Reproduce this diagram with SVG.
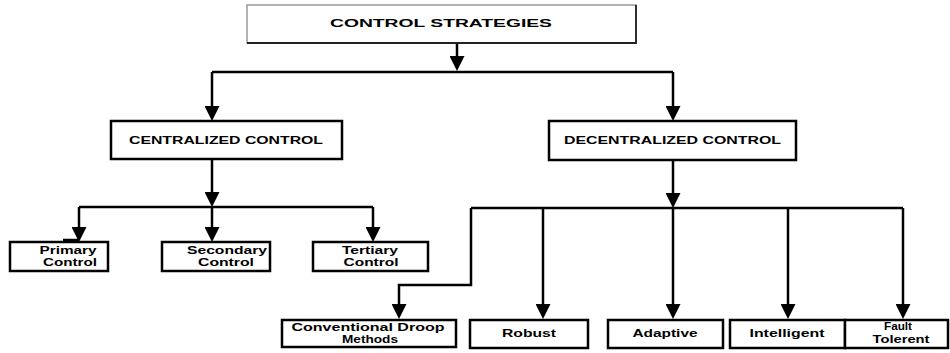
<svg xmlns="http://www.w3.org/2000/svg" width="950" height="353" viewBox="0 0 950 353">
<style>
.bx{fill:#fff;stroke:#000;stroke-width:2.5}
.cn{fill:none;stroke:#000;stroke-width:2.5}
.ar{marker-end:url(#ah)}
text{font-family:"Liberation Sans",Arial,sans-serif;font-weight:bold;fill:#000;text-anchor:middle}
.t1{font-size:11.5px}
.t2{font-size:11px}
.t3{font-size:10px}
</style>
<defs>
<marker id="ah" markerUnits="userSpaceOnUse" markerWidth="15" markerHeight="15" viewBox="0 0 15 15" refX="11" refY="7.5" orient="auto">
<path d="M0,0 L15,7.5 L0,15 z" fill="#000"/>
</marker>
</defs>
<rect width="950" height="353" fill="#fff"/>
<g id="connectors">
<line class="cn ar" x1="457" y1="43" x2="457" y2="67"/>
<polyline class="cn" points="212,72 673,72"/>
<line class="cn ar" x1="212" y1="72" x2="212" y2="117"/>
<line class="cn ar" x1="673" y1="72" x2="673" y2="117"/>
<line class="cn ar" x1="212" y1="159" x2="212" y2="203"/>
<polyline class="cn" points="79,207 373,207"/>
<line class="cn ar" x1="79" y1="207" x2="79" y2="238"/>
<line class="cn ar" x1="212" y1="207" x2="212" y2="238"/>
<line class="cn ar" x1="373" y1="207" x2="373" y2="238"/>
<line class="cn" x1="63" y1="240" x2="79" y2="240"/>
<line class="cn ar" x1="673" y1="160" x2="673" y2="204"/>
<polyline class="cn" points="471,208 903,208"/>
<polyline class="cn ar" points="471,208 471,285 399,285 399,315"/>
<line class="cn ar" x1="543" y1="208" x2="543" y2="315"/>
<line class="cn ar" x1="673" y1="208" x2="673" y2="315"/>
<line class="cn ar" x1="788" y1="208" x2="788" y2="315"/>
<line class="cn ar" x1="903" y1="208" x2="903" y2="315"/>
</g>
<g id="control-strategies">
<rect x="247" y="5" width="389" height="38" fill="#fff" stroke="#999" stroke-width="1.5"/>
<polyline points="636,5 636,43 247,43" fill="none" stroke="#222" stroke-width="1.8"/>
<text class="t1" x="441" y="27" textLength="222" lengthAdjust="spacingAndGlyphs">CONTROL STRATEGIES</text>
</g>
<g id="centralized">
<rect class="bx" x="111" y="121" width="231" height="38"/>
<text class="t2" x="226" y="144" textLength="194" lengthAdjust="spacingAndGlyphs">CENTRALIZED CONTROL</text>
</g>
<g id="decentralized">
<rect class="bx" x="549" y="121" width="247" height="39"/>
<text class="t2" x="672.5" y="144" textLength="217" lengthAdjust="spacingAndGlyphs">DECENTRALIZED CONTROL</text>
</g>
<g id="primary">
<rect class="bx" x="10" y="242" width="98" height="29"/>
<text class="t3" x="68" y="254" textLength="57" lengthAdjust="spacingAndGlyphs">Primary</text>
<text class="t3" x="70" y="266" textLength="54" lengthAdjust="spacingAndGlyphs">Control</text>
</g>
<g id="secondary">
<rect class="bx" x="162" y="242" width="108" height="29"/>
<text class="t3" x="227" y="254" textLength="80" lengthAdjust="spacingAndGlyphs">Secondary</text>
<text class="t3" x="226" y="266" textLength="56" lengthAdjust="spacingAndGlyphs">Control</text>
</g>
<g id="tertiary">
<rect class="bx" x="313" y="242" width="115" height="29"/>
<text class="t3" x="370" y="254" textLength="56" lengthAdjust="spacingAndGlyphs">Tertiary</text>
<text class="t3" x="371" y="266" textLength="55" lengthAdjust="spacingAndGlyphs">Control</text>
</g>
<g id="droop">
<rect class="bx" x="282" y="320" width="174" height="27"/>
<text class="t3" x="368" y="331" textLength="153" lengthAdjust="spacingAndGlyphs">Conventional Droop</text>
<text class="t3" x="370" y="343" textLength="56" lengthAdjust="spacingAndGlyphs">Methods</text>
</g>
<g id="robust">
<rect class="bx" x="470" y="320" width="118" height="28"/>
<text class="t3" x="529" y="337" textLength="54" lengthAdjust="spacingAndGlyphs">Robust</text>
</g>
<g id="adaptive">
<rect class="bx" x="608" y="320" width="115" height="28"/>
<text class="t3" x="665" y="337" textLength="65" lengthAdjust="spacingAndGlyphs">Adaptive</text>
</g>
<g id="intelligent">
<rect class="bx" x="730" y="320" width="115" height="28"/>
<text class="t3" x="787" y="337" textLength="75" lengthAdjust="spacingAndGlyphs">Intelligent</text>
</g>
<g id="fault">
<rect class="bx" x="845" y="320" width="103" height="28"/>
<text class="t3" x="898" y="330" textLength="28" lengthAdjust="spacingAndGlyphs">Fault</text>
<text class="t3" x="901" y="343" textLength="57" lengthAdjust="spacingAndGlyphs">Tolerent</text>
</g>
</svg>
